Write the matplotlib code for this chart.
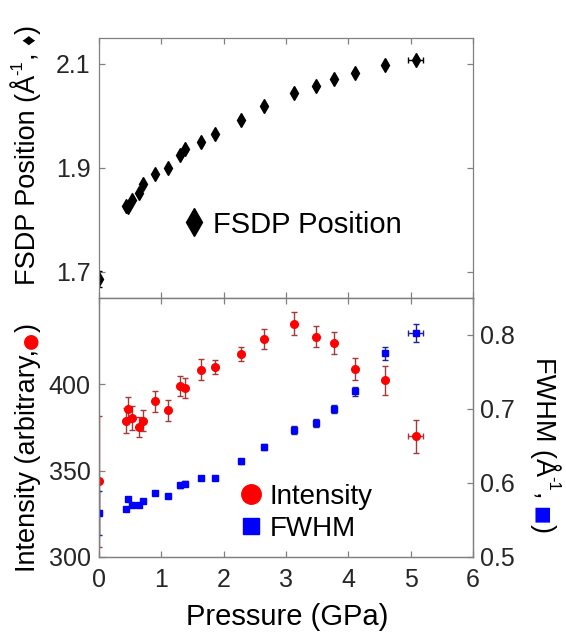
import matplotlib
matplotlib.use('Agg')
import matplotlib.pyplot as plt
from matplotlib.lines import Line2D

plt.rcParams['font.family'] = ['Liberation Sans', 'DejaVu Sans']

# data
pressure = [0.0, 0.43, 0.47, 0.53, 0.64, 0.71, 0.90, 1.11, 1.30, 1.38,
            1.64, 1.86, 2.27, 2.64, 3.13, 3.48, 3.76, 4.11, 4.59, 5.08]
pressure_err = [0, 0, 0, 0, 0, 0, 0, 0, 0, 0,
                0, 0, 0, 0, 0, 0, 0, 0, 0, 0.12]

fsdp = [1.686, 1.826, 1.824, 1.838, 1.851, 1.869, 1.888, 1.899, 1.925, 1.936,
        1.949, 1.965, 1.992, 2.019, 2.044, 2.058, 2.071, 2.083, 2.097, 2.108]
fsdp_err = [0.015, 0.003, 0.003, 0.003, 0.003, 0.003, 0.003, 0.003, 0.003, 0.003,
            0.003, 0.003, 0.003, 0.003, 0.003, 0.003, 0.003, 0.003, 0.003, 0.003]

intensity = [343.8, 379.0, 385.9, 380.4, 375.2, 379.0, 390.1, 384.9, 399.0, 397.9,
             408.5, 409.9, 417.3, 426.2, 435.1, 427.5, 424.0, 408.7, 402.3, 369.8]
intensity_err = [38, 7, 7, 7, 6, 6, 6, 6, 6, 6,
                 6, 4, 4, 6, 6.5, 6, 6.5, 6.5, 8.5, 9.7]

fwhm = [0.5595, 0.565, 0.579, 0.570, 0.570, 0.5756, 0.5863, 0.5823, 0.5966, 0.599,
        0.607, 0.6065, 0.629, 0.648, 0.6714, 0.681, 0.700, 0.724, 0.775, 0.803]
fwhm_err = [0.030, 0.002, 0.002, 0.002, 0.002, 0.002, 0.002, 0.002, 0.003, 0.003,
            0.003, 0.003, 0.003, 0.004, 0.005, 0.005, 0.005, 0.006, 0.009, 0.012]

x_ticks = [0, 1, 2, 3, 4, 5, 6]
fsdp_ticks = [1.7, 1.9, 2.1]
int_ticks = [300, 350, 400]
fwhm_ticks = [0.5, 0.6, 0.7, 0.8]

spine_col = '#808080'
text_col = '#262626'

fig = plt.figure(figsize=(5.66, 6.42), dpi=100)
ax1 = fig.add_axes([0.175, 0.536, 0.661, 0.405])
ax2 = fig.add_axes([0.175, 0.1324, 0.661, 0.4036])
ax3 = ax2.twinx()


def style(ax):
    for s in ax.spines.values():
        s.set_color(spine_col)
        s.set_linewidth(0.9)
    ax.tick_params(colors=spine_col, labelcolor=text_col, labelsize=18,
                   length=4, width=0.9, direction='in')


for ax in (ax1, ax2, ax3):
    style(ax)

# top panel: FSDP position
ax1.errorbar(pressure, fsdp, yerr=fsdp_err, xerr=pressure_err, fmt='d',
             color='black', ms=7.5, ecolor='black', elinewidth=1, capsize=2.5)
ax1.set_xlim(0, 6)
ax1.set_ylim(1.65, 2.15)
ax1.set_xticks(x_ticks)
ax1.set_yticks(fsdp_ticks)
ax1.tick_params(axis='x', top=True, labelbottom=False)
ax1.tick_params(axis='y', right=True, pad=6)
ax1.legend(handles=[Line2D([0], [0], marker='d', color='black', ls='none', ms=14)],
           labels=['FSDP Position'], frameon=False, fontsize=21,
           loc='center left', bbox_to_anchor=(0.324, 0.650),
           bbox_transform=fig.transFigure, handlelength=0.7, handletextpad=0.3,
           borderaxespad=0, borderpad=0)

# bottom panel: intensity (left) and FWHM (right)
ax2.errorbar(pressure, intensity, yerr=intensity_err, xerr=pressure_err, fmt='o',
             color='#ff0000', ms=5.5, ecolor='#a33a3a', elinewidth=1, capsize=2.5)
ax3.errorbar(pressure, fwhm, yerr=fwhm_err, xerr=pressure_err, fmt='s',
             color='#0000ff', ms=4.5, ecolor='#23238c', elinewidth=1, capsize=2.5)
ax2.set_xlim(0, 6)
ax2.set_ylim(300, 450)
ax3.set_ylim(0.5, 0.85)
ax2.set_xticks(x_ticks)
ax2.set_yticks(int_ticks)
ax3.set_yticks(fwhm_ticks)
ax2.tick_params(axis='x', top=True, pad=8)
ax2.tick_params(axis='y', pad=6)
ax3.tick_params(axis='y', pad=5)

leg_handles = [Line2D([0], [0], marker='o', color='#ff0000', ls='none', ms=14),
               Line2D([0], [0], marker='s', color='#0000ff', ls='none', ms=12)]
ax2.legend(handles=leg_handles, labels=['Intensity', 'FWHM'], frameon=False,
           fontsize=20, loc='center left', bbox_to_anchor=(0.423, 0.201),
           bbox_transform=fig.transFigure, handlelength=0.8, handletextpad=0.3,
           labelspacing=0.2, borderaxespad=0, borderpad=0)

fig.text(0.507, 0.0265, 'Pressure (GPa)', fontsize=21, ha='center', va='baseline')

# rotated y labels with coloured symbols, placed piece by piece
fig.canvas.draw()
renderer = fig.canvas.get_renderer()
W, H = fig.bbox.width, fig.bbox.height
sym = ['DejaVu Sans']


def rotated_label(x, y, pieces, rotation):
    # pieces: (text, colour, size, family, shift up from baseline in points)
    for txt, col, size, fam, up in pieces:
        dx = up * fig.dpi / 72 / W
        xx = x - dx if rotation == 90 else x + dx
        t = fig.text(xx, y, txt, fontsize=size, color=col, rotation=rotation,
                     family=fam, rotation_mode='anchor', ha='left', va='baseline')
        step = t.get_window_extent(renderer).height
        if rotation == 90:
            y += step / H
        else:
            y -= step / H


lab = ['Liberation Sans', 'DejaVu Sans']
fs = 19.5
rotated_label(0.062, 0.556, [('FSDP Position (Å', 'black', fs, lab, 0),
                             ('-1', 'black', 12, lab, 9),
                             (', ', 'black', fs, lab, 0),
                             ('♦', 'black', 15, lab, 0),
                             (')', 'black', fs, lab, 0)], 90)
rotated_label(0.062, 0.109, [('Intensity (arbitrary,', 'black', fs, lab, 0),
                             ('●', '#ff0000', 14, sym, 0),
                             (')', 'black', fs, lab, 0)], 90)
rotated_label(0.947, 0.444, [('FWHM (Å', 'black', fs, lab, 0),
                             ('-1', 'black', 12, lab, 9),
                             (', ', 'black', fs, lab, 0),
                             ('■', '#0000ff', 14, sym, 0),
                             (')', 'black', fs, lab, 0)], 270)

fig.savefig('out.png', dpi=100)
